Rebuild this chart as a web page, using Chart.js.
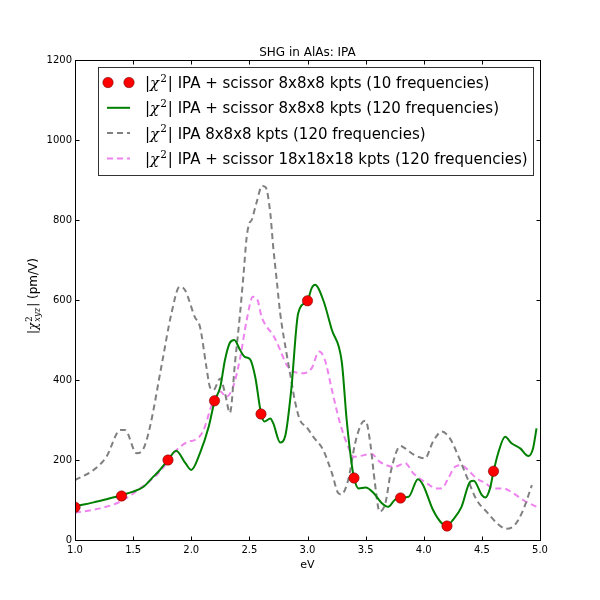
<!DOCTYPE html>
<html><head><meta charset="utf-8">
<script src="https://cdn.jsdelivr.net/npm/chart.js@4.4.0/dist/chart.umd.min.js"></script>
<style>html,body{margin:0;padding:0;background:#fff}#wrap{width:600px;height:600px}</style>
</head><body><div id="wrap"><canvas id="c" width="600" height="600"></canvas></div>
<script>
const titleText = 'SHG in AlAs: IPA';
const xTitle = 'eV';
const yTitleRest = ' (pm/V)';
const xTicks = [1.0, 1.5, 2.0, 2.5, 3.0, 3.5, 4.0, 4.5, 5.0];
const yTicks = [0, 200, 400, 600, 800, 1000, 1200];
const legendTexts = [
  ' IPA + scissor 8x8x8 kpts (10 frequencies)',
  ' IPA + scissor 8x8x8 kpts (120 frequencies)',
  ' IPA 8x8x8 kpts (120 frequencies)',
  ' IPA + scissor 18x18x18 kpts (120 frequencies)'
];

const dotsX = [1.0, 1.4, 1.8, 2.2, 2.6, 3.0, 3.4, 3.8, 4.2, 4.6];
const dotsY = [82, 110, 200, 348, 315, 598, 155, 105, 35, 172];

const greenX = [1.0,1.16,1.27,1.40,1.50,1.59,1.66,1.73,1.80,1.87,1.95,2.0,2.075,2.15,2.2,2.25,2.29,2.33,2.37,2.42,2.46,2.505,2.55,2.6,2.63,2.68,2.705,2.765,2.81,2.86,2.92,3.0,3.035,3.065,3.135,3.21,3.295,3.337,3.38,3.40,3.44,3.50,3.57,3.64,3.695,3.75,3.80,3.87,3.95,3.995,4.08,4.155,4.20,4.25,4.325,4.40,4.43,4.50,4.53,4.57,4.60,4.64,4.70,4.755,4.83,4.90,4.94,4.97];
const greenY = [84,94,102,112,121,133,154,175,200,223,192,175,217,283,346,383,450,492,500,475,458,452,408,317,296,304,292,244,262,375,567,598,629,638,600,525,445,300,190,155,129,131,117,92,83,100,106,108,152,137,75,42,36,50,83,146,148,112,106,129,171,217,258,242,229,210,229,279];

const grayX = [1.0,1.16,1.27,1.39,1.43,1.53,1.59,1.645,1.745,1.83,1.90,1.946,2.03,2.075,2.13,2.16,2.19,2.25,2.29,2.333,2.376,2.42,2.45,2.477,2.50,2.52,2.56,2.61,2.64,2.68,2.705,2.735,2.765,2.82,2.86,2.89,2.935,2.99,3.05,3.135,3.21,3.265,3.29,3.35,3.41,3.466,3.50,3.54,3.58,3.62,3.67,3.72,3.80,3.84,3.91,4.01,4.08,4.155,4.225,4.30,4.37,4.455,4.54,4.63,4.71,4.785,4.855,4.93];
const grayY = [150,175,208,275,275,217,229,283,437,567,633,625,558,533,433,383,375,404,367,318,442,567,665,758,792,800,842,885,882,817,733,650,567,466,400,350,300,283,258,225,167,117,114,150,242,292,298,242,142,71,92,175,235,229,214,204,246,271,254,208,158,100,71,42,28,38,75,137];

const violetX = [1.0,1.215,1.39,1.56,1.70,1.79,1.875,1.975,2.03,2.10,2.19,2.25,2.30,2.36,2.42,2.477,2.53,2.57,2.605,2.65,2.705,2.765,2.82,2.88,2.965,3.035,3.10,3.15,3.21,3.28,3.35,3.395,3.45,3.55,3.62,3.68,3.75,3.84,3.91,4.025,4.11,4.155,4.21,4.27,4.325,4.38,4.455,4.53,4.60,4.685,4.77,4.855,4.97];
const violetY = [68,79,96,129,162,192,225,246,250,271,348,371,358,383,454,550,608,600,558,533,512,475,438,421,417,429,471,450,375,292,233,208,210,215,196,187,183,192,167,142,129,129,154,183,187,175,154,142,129,129,117,100,83];

const pts = (xs, ys) => xs.map((v, i) => ({x: v, y: ys[i]}));

const RED = '#ff0000', GREEN = '#008000', GRAY = '#808080', VIOLET = '#ee82ee';
const SANS = '"DejaVu Sans"', SERIF = '"DejaVu Serif"';

function drawChi(ctx, x, y, fs, sub, draw) {
  ctx.font = `${fs}px ${SANS}`;
  if (draw) ctx.fillText('|', x, y);
  x += ctx.measureText('|').width;
  ctx.font = `italic ${fs}px ${SERIF}`;
  if (draw) ctx.fillText('χ', x, y);
  x += ctx.measureText('χ').width;
  const s = fs * 0.7;
  ctx.font = `${s}px ${SERIF}`;
  if (draw) ctx.fillText('2', x + 1, y - fs * 0.42);
  let w = ctx.measureText('2').width;
  if (sub) {
    ctx.font = `italic ${s}px ${SERIF}`;
    if (draw) ctx.fillText(sub, x + 1, y + fs * 0.28);
    w = Math.max(w, ctx.measureText(sub).width);
  }
  x += w + 2;
  ctx.font = `${fs}px ${SANS}`;
  if (draw) ctx.fillText('|', x, y);
  x += ctx.measureText('|').width;
  return x;
}

const decor = {
  id: 'decor',
  afterDraw(chart) {
    const {ctx, chartArea: a, scales: {x, y}} = chart;
    ctx.save();
    ctx.strokeStyle = '#000';
    ctx.lineWidth = 1;
    const L = Math.round(a.left) + 0.5, R = Math.round(a.right) + 0.5;
    const T = Math.round(a.top) + 0.5, B = Math.round(a.bottom) + 0.5;
    ctx.strokeRect(L, T, R - L, B - T);
    ctx.beginPath();
    xTicks.forEach(v => {
      const px = Math.round(x.getPixelForValue(v)) + 0.5;
      ctx.moveTo(px, B); ctx.lineTo(px, B - 4);
      ctx.moveTo(px, T); ctx.lineTo(px, T + 4);
    });
    yTicks.forEach(v => {
      const py = Math.round(y.getPixelForValue(v)) + 0.5;
      ctx.moveTo(L, py); ctx.lineTo(L + 4, py);
      ctx.moveTo(R, py); ctx.lineTo(R - 4, py);
    });
    ctx.stroke();

    ctx.fillStyle = '#000';
    ctx.textBaseline = 'alphabetic';
    ctx.textAlign = 'center';
    ctx.font = `12px ${SANS}`;
    ctx.fillText(titleText, (a.left + a.right) / 2, 56);
    ctx.font = `11px ${SANS}`;
    ctx.fillText(xTitle, (a.left + a.right) / 2, 568);

    // y title
    ctx.textAlign = 'left';
    ctx.save();
    ctx.translate(37, (a.top + a.bottom) / 2 - 4);
    ctx.rotate(-Math.PI / 2);
    const yfs = 12;
    let wEnd = drawChi(ctx, 0, 0, yfs, 'xyz', false);
    ctx.font = `${yfs}px ${SANS}`;
    const total = wEnd + ctx.measureText(yTitleRest).width;
    let xx = drawChi(ctx, -total / 2, 0, yfs, 'xyz', true);
    ctx.font = `${yfs}px ${SANS}`;
    ctx.fillText(yTitleRest, xx, 0);
    ctx.restore();

    // legend
    const bx = 98.5, by = 67.5, bw = 435, bh = 108;
    ctx.fillStyle = '#fff';
    ctx.fillRect(bx, by, bw, bh);
    ctx.strokeStyle = '#333';
    ctx.strokeRect(bx, by, bw, bh);
    const base = [88, 113.3, 138.6, 164];
    const fs = 15;
    base.forEach((b, i) => {
      const cy = b - 5.5;
      ctx.save();
      if (i === 0) {
        [108, 129].forEach(cx => {
          ctx.beginPath(); ctx.arc(cx, cy, 5.2, 0, Math.PI * 2);
          ctx.fillStyle = RED; ctx.fill();
          ctx.strokeStyle = 'rgba(90,0,0,0.7)'; ctx.lineWidth = 0.7; ctx.stroke();
        });
      } else {
        ctx.beginPath(); ctx.moveTo(107, cy); ctx.lineTo(130, cy);
        ctx.lineWidth = 2;
        ctx.strokeStyle = [null, GREEN, GRAY, VIOLET][i];
        if (i > 1) ctx.setLineDash([6, 4]);
        ctx.stroke();
      }
      ctx.restore();
      ctx.fillStyle = '#000';
      let tx = drawChi(ctx, 145, b, fs, null, true);
      ctx.font = `${fs}px ${SANS}`;
      ctx.fillText(legendTexts[i], tx, b);
    });
    ctx.restore();
  }
};

new Chart(document.getElementById('c'), {
  type: 'scatter',
  data: {
    datasets: [
      {label: 'dots', data: pts(dotsX, dotsY), showLine: false, pointRadius: 5.2, pointHoverRadius: 5.2,
       backgroundColor: RED, borderColor: 'rgba(90,0,0,0.7)', borderWidth: 0.7, order: 0, clip: 0},
      {label: 'green', data: pts(greenX, greenY), showLine: true, pointRadius: 0, borderColor: GREEN,
       borderWidth: 2, cubicInterpolationMode: 'monotone', order: 1, clip: 0},
      {label: 'gray', data: pts(grayX, grayY), showLine: true, pointRadius: 0, borderColor: GRAY,
       borderWidth: 2, borderDash: [6, 4], cubicInterpolationMode: 'monotone', order: 2, clip: 0},
      {label: 'violet', data: pts(violetX, violetY), showLine: true, pointRadius: 0, borderColor: VIOLET,
       borderWidth: 2, borderDash: [6, 4], cubicInterpolationMode: 'monotone', order: 3, clip: 0}
    ]
  },
  options: {
    responsive: false, animation: false, devicePixelRatio: 1,
    layout: {padding: {left: 0, top: 60, right: 60, bottom: 0}},
    plugins: {legend: {display: false}, title: {display: false}, tooltip: {enabled: false}},
    scales: {
      x: {type: 'linear', min: 1, max: 5,
          afterBuildTicks: s => { s.ticks = xTicks.map(v => ({value: v})); },
          afterFit: s => { s.height = 60; },
          grid: {display: false, drawTicks: false, tickLength: 0}, border: {display: false},
          ticks: {callback: v => v.toFixed(1), font: {family: 'DejaVu Sans', size: 10}, color: '#000', padding: 4, maxRotation: 0}},
      y: {type: 'linear', min: 0, max: 1200,
          afterBuildTicks: s => { s.ticks = yTicks.map(v => ({value: v})); },
          afterFit: s => { s.width = 75; },
          grid: {display: false, drawTicks: false, tickLength: 0}, border: {display: false},
          ticks: {callback: v => String(v), font: {family: 'DejaVu Sans', size: 10}, color: '#000', padding: 3}}
    }
  },
  plugins: [decor]
});
</script></body></html>
